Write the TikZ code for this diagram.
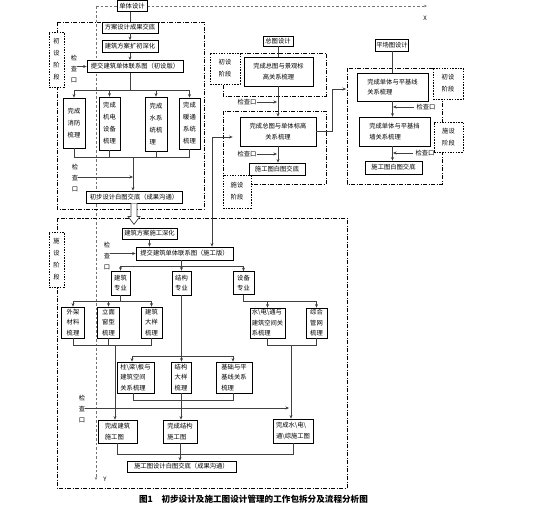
\documentclass[tikz,border=0pt]{standalone}
\usepackage{fontspec}
\setmainfont{Noto Sans CJK SC}
\usetikzlibrary{arrows.meta,calc}
\pgfdeclarelayer{background}
\pgfsetlayers{background,main}
\begin{document}
\begin{tikzpicture}[x=1pt,y=-1pt,
 box/.style={draw=black,line width=0.8pt,fill=white,inner sep=1pt,font=\fontsize{6.3}{10.5}\selectfont,align=center},
 tall/.style={font=\fontsize{6.3}{12}\selectfont},
 sz/.style 2 args={minimum width=#1pt,minimum height=#2pt},
 lbl/.style={draw=black,line width=0.6pt,dash pattern=on 1.5pt off 1.2pt,fill=white,inner sep=0pt,font=\fontsize{6.3}{12}\selectfont,align=center},
 region/.style={draw=black,line width=0.6pt,dash pattern=on 4pt off 1.5pt on 1pt off 1.5pt},
 conn/.style={draw=black!75,line width=0.8pt},
 arr/.style={conn,-{Stealth[length=3.5pt,width=3pt]}},
 axis/.style={draw=black!55,line width=0.5pt,dash pattern=on 2.5pt off 2pt},
 ck/.style={font=\fontsize{6.3}{11}\selectfont,align=center,inner sep=0pt},
]
\useasboundingbox (0,0) rectangle (544,514);

% ---------- top ----------
\node[box,sz={30}{11}] (dt) at (132,6) {单体设计};
\coordinate (xo) at (96,6);
\coordinate (xe) at (427,6);
\coordinate (ye) at (96,480);
\node[ck,font=\fontsize{6}{7}\selectfont] (xl) at (425,18) {X};
\node[ck,font=\fontsize{6}{7}\selectfont] (yl) at (105,479) {Y};

\begin{pgfonlayer}{background}
\fill[white] (0,0) rectangle (544,514);
\draw[axis] (dt.west) -- (xo);
\draw[axis,-{Stealth[length=3pt,width=2.5pt]}] (dt.east) -- (xe);
\draw[axis,-{Stealth[length=3pt,width=2.5pt]}] (xo) -- (ye);
\draw[region] (57,22) rectangle (204,209);
\draw[region] (57,218) rectangle (347,488);
\draw[region] (223,53) rectangle (326,96);
\draw[region] (223,111) rectangle (326,184);
\draw[region] (347,68) rectangle (442,184);
\end{pgfonlayer}

% ---------- preliminary design (left top) ----------
\node[lbl,sz={15}{55}] (la) at (56.5,59.5) {初\\设\\阶\\段};
\node[box,sz={56}{11}] (n1) at (130,27.5) {方案设计成果交底};
\node[box,sz={56}{12}] (n2) at (130,46.5) {建筑方案扩初深化};
\node[box,sz={96}{12}] (n3) at (135,66.5) {提交建筑单体联系图（初设版）};
\node[ck] (c1) at (74,69) {检\\查\\口};
\draw[conn] (n1.north |- dt.south) -- (n1.north);
\draw[arr] (n1) -- (n2);
\draw[arr] (n2.south) -- (n2.south |- n3.north);
\draw[arr] (c1.east |- n3.west) -- (n3.west);

\node[box,tall,sz={22}{50}] (f1) at (74,123) {完成\\消防\\梳理};
\node[box,tall,sz={21}{53}] (f2) at (109.5,123.5) {完成\\机电\\设备\\梳理};
\node[box,tall,sz={22}{54},align=left] (f3) at (156,124) {完成\\水系\\统梳\\理};
\node[box,tall,sz={21}{51}] (f4) at (189.5,123.5) {完成\\暖通\\系统\\梳理};
\coordinate (b1) at (130,90);
\draw[conn] (n3.south -| b1) -- (b1);
\draw[conn] (f1.north |- b1) -- (f4.north |- b1);
\draw[arr] (f1.north |- b1) -- (f1.north);
\draw[arr] (f2.north |- b1) -- (f2.north);
\draw[arr] (f3.north |- b1) -- (f3.north);
\draw[arr] (f4.north |- b1) -- (f4.north);

\node[box,sz={96}{12}] (n4) at (134,197) {初步设计白图交底（成果沟通）};
\coordinate (b2) at (133,157);
\draw[conn] (f1.south) -- (f1.south |- b2) -- (f4.south |- b2) -- (f4.south);
\draw[conn] (f2.south) -- (f2.south |- b2);
\draw[conn] (f3.south) -- (f3.south |- b2);
\draw[arr] (b2) -- (b2 |- n4.north);
\node[ck] (c2) at (75,178) {检\\查\\口};
\coordinate (k2) at (133,177);
\draw[arr] (c2.east |- k2) -- (k2);

% hollow arrow
\draw[conn,fill=white,line width=0.7pt] ($(n4.south)+(-3,0)$) -- ($(n4.south)+(-3,13)$) -- ($(n4.south)+(-6,13)$) -- ($(n4.south)+(0,21)$) -- ($(n4.south)+(6,13)$) -- ($(n4.south)+(3,13)$) -- ($(n4.south)+(3,0)$);

% ---------- construction design (left bottom) ----------
\node[lbl,sz={15}{55}] (lb) at (56.5,259.5) {施\\设\\阶\\段};
\node[box,sz={55}{11}] (m1) at (149.5,233.5) {建筑方案施工深化};
\node[box,sz={97}{13}] (m2) at (184.5,253.5) {提交建筑单体联系图（施工版）};
\draw[arr] (m1.south) -- (m1.south |- m2.north);
\node[ck] (c3) at (107,256) {检\\查\\口};
\draw[arr] (c3.east |- m2.west) -- (m2.west);

\node[box,sz={19}{24}] (p1) at (120.5,283) {建筑\\专业};
\node[box,sz={19}{24}] (p2) at (181.5,283) {结构\\专业};
\node[box,sz={21}{23}] (p3) at (243.5,283) {设备\\专业};
\coordinate (b3) at (181.5,266);
\draw[conn] (m2.south -| b3) -- (b3);
\draw[conn] (p1.north |- b3) -- (p3.north |- b3);
\draw[arr] (p1.north |- b3) -- (p1.north);
\draw[arr] (p2.north |- b3) -- (p2.north);
\draw[arr] (p3.north |- b3) -- (p3.north);

% architecture branch
\node[box,sz={23}{31}] (q1) at (73,322.5) {外架\\材料\\梳理};
\node[box,sz={22}{31}] (q2) at (108.5,322.5) {立面\\窗型\\梳理};
\node[box,sz={21}{31}] (q3) at (151.5,322.5) {建筑\\大样\\梳理};
\coordinate (b4) at (120.5,301);
\draw[conn] (p1.south) -- (b4);
\draw[conn] (q1.north |- b4) -- (q3.north |- b4);
\draw[arr] (q1.north |- b4) -- (q1.north);
\draw[arr] (q2.north |- b4) -- (q2.north);
\draw[arr] (q3.north |- b4) -- (q3.north);
\coordinate (b5) at (115,345);
\draw[conn] (q1.south) -- (q1.south |- b5) -- (q3.south |- b5) -- (q3.south);
\draw[conn] (q2.south) -- (q2.south |- b5);

% structure branch
\node[box,sz={37}{31},align=left] (rr1) at (135.5,377.5) {柱\textbackslash 梁\textbackslash 板与\\建筑空间\\关系梳理};
\node[box,sz={20}{31}] (rr2) at (181,377.5) {结构\\大样\\梳理};
\node[box,sz={36}{31},align=left] (rr3) at (234,377.5) {基础与平\\基线关系\\梳理};
\coordinate (a6l) at (132,356);
\coordinate (a6r) at (233,356);
\draw[arr] (p2.south) -- (p2.south |- rr2.north);
\draw[conn] (a6l) -- (a6r);
\draw[arr] (a6l) -- (a6l |- rr1.north);
\draw[arr] (a6r) -- (a6r |- rr3.north);
\coordinate (a7l) at (133,400);
\coordinate (a7r) at (233,400);
\draw[conn] (a7l |- rr1.south) -- (a7l) -- (a7r) -- (a7r |- rr3.south);

% equipment branch
\node[box,sz={35}{30},align=left] (t1) at (267.5,323) {水\textbackslash 电\textbackslash 通与\\建筑空间关\\系梳理};
\node[box,sz={21}{30}] (t2) at (316.5,323) {综合\\管网\\梳理};
\coordinate (b8) at (243.5,301);
\draw[conn] (p3.south) -- (b8) -- (t2.north |- b8);
\draw[arr] (t1.north |- b8) -- (t1.north);
\draw[arr] (t2.north |- b8) -- (t2.north);
\coordinate (b9) at (291,345);
\draw[conn] (t1.south) -- (t1.south |- b9) -- (t2.south |- b9) -- (t2.south);

% completion boxes
\node[box,sz={39}{23},align=left] (s1) at (117.5,431.5) {完成建筑\\施工图};
\node[box,sz={34}{23},align=left] (s2) at (180,431.5) {完成结构\\施工图};
\node[box,sz={40}{24},align=left] (s3) at (293,431) {完成水\textbackslash 电\textbackslash\\通\textbackslash 综施工图};
\draw[arr] (b5) -- (b5 |- s1.north);
\draw[arr] (rr2.south) -- (rr2.south |- s2.north);
\draw[arr] (b9) -- (b9 |- s3.north);
\node[ck] (c4) at (82,409) {检\\查\\口};
\coordinate (k4) at (289,408);
\draw[arr] (c4.east |- k4) -- (k4);

\node[box,sz={109}{11}] (fin) at (181.5,466.5) {施工图设计白图交底（成果沟通）};
\coordinate (b10) at (180,454);
\draw[conn] (s1.south) -- (s1.south |- b10) -- (s3.south |- b10) -- (s3.south);
\draw[arr] (s2.south) -- (s2.south |- fin.north);

% ---------- site plan group ----------
\node[box,sz={30}{10}] (z0) at (278,41) {总图设计};
\node[lbl,sz={30}{31}] (lz1) at (225,68.5) {初设\\阶段};
\node[box,sz={69}{29}] (z1) at (278.5,71.5) {完成总图与景观标\\高关系梳理};
\node[lbl,sz={28}{33}] (lz2) at (237,191.5) {施设\\阶段};
\node[box,sz={76}{29}] (r2) at (278,131.5) {完成总图与单体标高\\关系梳理};
\node[box,sz={56}{12}] (z3) at (277,169) {施工图白图交底};
\draw[conn] (z0.south) -- (z0.south |- z1.north);
\draw[arr] (r2.north |- z1.south) -- (r2.north);
\draw[arr] (r2.south) -- (r2.south |- z3.north);
\node[ck] (c5) at (247,102) {检查口};
\coordinate (k5) at (277,102);
\draw[arr] (c5.east) -- (k5);
\node[ck] (c6) at (247,154) {检查口};
\coordinate (k6) at (277,154);
\draw[arr] (c6.east) -- (k6);

% link between construction drawing and site plan
\coordinate (u1) at (212,137);
\draw[conn,{Stealth[length=3.5pt,width=3pt]}-{Stealth[length=3.5pt,width=3pt]},shorten <=7pt] (r2.west |- u1) -- (u1) -- (u1 |- m2.north);

% link to grading group
\coordinate (v1) at (332,89);
\coordinate (v2) at (346,89);
\draw[arr] (r2.east) -- (r2.east -| v1) -- (v1) -- (v2);

% ---------- grading plan group ----------
\node[box,sz={32}{12}] (w0) at (392,45) {平场图设计};
\node[lbl,sz={30}{31}] (lw1) at (448,83.5) {初设\\阶段};
\node[lbl,sz={29}{30}] (lw2) at (448.5,137) {施设\\阶段};
\node[box,sz={71}{28},align=left] (w1) at (392.5,87) {完成单体与平基线\\关系梳理};
\node[box,sz={71}{29},align=left] (w2) at (394.5,131.5) {完成单体与平基挡\\墙关系梳理};
\node[box,sz={57}{13}] (w3) at (393.5,167.5) {施工图白图交底};
\draw[conn] (w0.south) -- (w0.south |- w1.north);
\draw[arr] (w1.south) -- (w1.south |- w2.north);
\draw[arr] (w2.south -| w1.south) -- (w3.north -| w1.south);
\node[ck] (c7) at (426,107) {检查口};
\coordinate (k7) at (393,107);
\draw[arr] ($(c7.west)+(-2,0)$) -- (k7);
\node[ck] (c8) at (425,153) {检查口};
\coordinate (k8) at (393,153);
\draw[arr] ($(c8.west)+(-2,0)$) -- (k8);

% ---------- caption ----------
\node[inner sep=0pt,font=\fontsize{8.6}{10}\selectfont\bfseries] (cap) at (253.5,499) {图1\quad 初步设计及施工图设计管理的工作包拆分及流程分析图};
\end{tikzpicture}
\end{document}
